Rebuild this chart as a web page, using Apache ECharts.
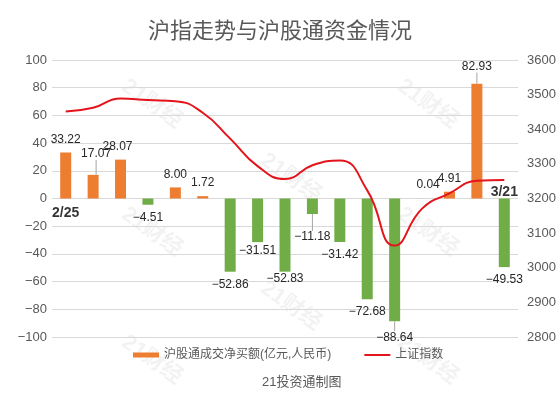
<!DOCTYPE html>
<html>
<head>
<meta charset="utf-8">
<script src="https://cdn.jsdelivr.net/npm/echarts@6/dist/echarts.min.js"></script>
<style>
    html, body { margin: 0; padding: 0; background: #fff; }
    #chart { width: 560px; height: 397px; }
</style>
</head>
<body>
<div id="chart"></div>
<script>
// 交易日(2/25 - 3/21)
const dates = ['2/25', '2/28', '3/1', '3/2', '3/3', '3/4', '3/7', '3/8', '3/9', '3/10', '3/11', '3/14', '3/15', '3/16', '3/17', '3/18', '3/21'];
// 沪股通成交净买额(亿元)
const netBuy = [33.22, 17.07, 28.07, -4.51, 8.00, 1.72, -52.86, -31.51, -52.83, -11.18, -31.42, -72.68, -88.64, 0.04, 4.91, 82.93, -49.53];
// 上证指数收盘
const shIndex = [3451.41, 3462.31, 3488.83, 3484.19, 3481.11, 3447.65, 3372.86, 3293.53, 3256.39, 3296.09, 3309.75, 3223.53, 3063.97, 3170.71, 3215.04, 3251.07, 3253.69];
// 只标注首尾日期
const markedDates = [dates[0], dates[dates.length - 1]];

const BAR_NAME = '沪股通成交净买额(亿元,人民币)';
const LINE_NAME = '上证指数';
const ORANGE = '#ED7D31';
const GREEN = '#70AD47';
const RED = '#E3141B';
const FONT = '"Liberation Sans", "Noto Sans CJK SC", sans-serif';

// 标签偏移 [dx, dy, 是否画引导线]
const labelShift = {
    1: [3, -8, true],
    2: [-3, 0, false],
    7: [0, -4, false],
    8: [0, -6, false],
    9: [0, 10, true],
    12: [0, 3, true],
    13: [6, -1, false],
    15: [0, -4, true]
};

const minus = v => String(v).replace('-', '\u2212');

// 背景水印 "21财经"
const watermarkSpots = [[152, 104], [428, 104], [291, 178], [152, 232], [428, 232], [291, 306], [152, 360], [428, 360]];
const watermarks = watermarkSpots.map(([x, y]) => ({
    type: 'text',
    x: x,
    y: y,
    rotation: -0.62,
    silent: true,
    z: -10,
    style: {
        text: '21财经',
        fontSize: 22,
        fontWeight: 'bold',
        fontFamily: FONT,
        fill: 'rgba(0,0,0,0.05)',
        align: 'center',
        verticalAlign: 'middle'
    }
}));

const chart = echarts.init(document.getElementById('chart'));
chart.setOption({
    animation: false,
    textStyle: { fontFamily: FONT },
    graphic: watermarks,
    title: [
        {
            text: '沪指走势与沪股通资金情况',
            left: 'center',
            top: 16,
            textStyle: { fontSize: 22, fontWeight: 'normal', color: '#595959', fontFamily: FONT }
        },
        {
            text: '21投资通制图',
            left: 257,
            top: 371,
            textStyle: { fontSize: 13, fontWeight: 'normal', color: '#595959', fontFamily: FONT }
        }
    ],
    legend: {
        left: 128,
        top: 344,
        itemWidth: 26,
        itemHeight: 5,
        itemGap: 32,
        textStyle: { fontSize: 12, color: '#595959', fontFamily: FONT },
        data: [
            { name: BAR_NAME, icon: 'rect', itemStyle: { color: ORANGE } },
            { name: LINE_NAME, itemStyle: { opacity: 0 }, lineStyle: { color: RED, width: 2 } }
        ]
    },
    grid: { left: 52, right: 42, top: 60, bottom: 60 },
    xAxis: {
        type: 'category',
        data: dates,
        axisLine: { show: false, onZero: true },
        axisTick: { show: false },
        axisLabel: { show: false },
        splitLine: { show: false }
    },
    yAxis: [
        {
            type: 'value',
            min: -100,
            max: 100,
            interval: 20,
            axisLine: { show: false },
            axisTick: { show: false },
            axisLabel: { margin: 5, fontSize: 13, color: '#595959', formatter: minus },
            splitLine: { lineStyle: { color: '#d9d9d9', width: 1 } }
        },
        {
            type: 'value',
            min: 2800,
            max: 3600,
            interval: 100,
            axisLine: { show: false },
            axisTick: { show: false },
            axisLabel: { margin: 9, fontSize: 13, color: '#595959', formatter: v => String(v) },
            splitLine: { show: false }
        }
    ],
    series: [
        {
            name: BAR_NAME,
            type: 'bar',
            barWidth: 11,
            data: netBuy.map((v, i) => ({
                value: v,
                label: { position: v >= 0 ? 'top' : 'bottom' },
                labelLine: { show: !!(labelShift[i] && labelShift[i][2]) }
            })),
            itemStyle: { color: p => (p.value >= 0 ? ORANGE : GREEN) },
            label: {
                show: true,
                distance: 7,
                fontSize: 12,
                color: '#262626',
                formatter: p => minus(p.value.toFixed(2))
            },
            labelLayout: p => {
                const s = labelShift[p.dataIndex];
                return s ? { dx: s[0], dy: s[1] } : {};
            },
            labelLine: { show: false, lineStyle: { color: '#a6a6a6', width: 1 } },
            z: 2
        },
        {
            name: LINE_NAME,
            type: 'line',
            yAxisIndex: 1,
            data: shIndex,
            smooth: 0.5,
            symbol: 'none',
            lineStyle: { color: RED, width: 2 },
            itemStyle: { color: RED },
            z: 3
        },
        {
            name: 'dates',
            type: 'scatter',
            symbolSize: 0,
            silent: true,
            data: markedDates.map((d, i) => ({
                value: [d, 0],
                label: { position: i === 0 ? 'bottom' : 'top', distance: i === 0 ? 8 : -1 }
            })),
            label: {
                show: true,
                fontSize: 14,
                fontWeight: 'bold',
                color: '#000',
                formatter: p => p.value[0]
            },
            z: 4
        }
    ]
});
</script>
</body>
</html>
